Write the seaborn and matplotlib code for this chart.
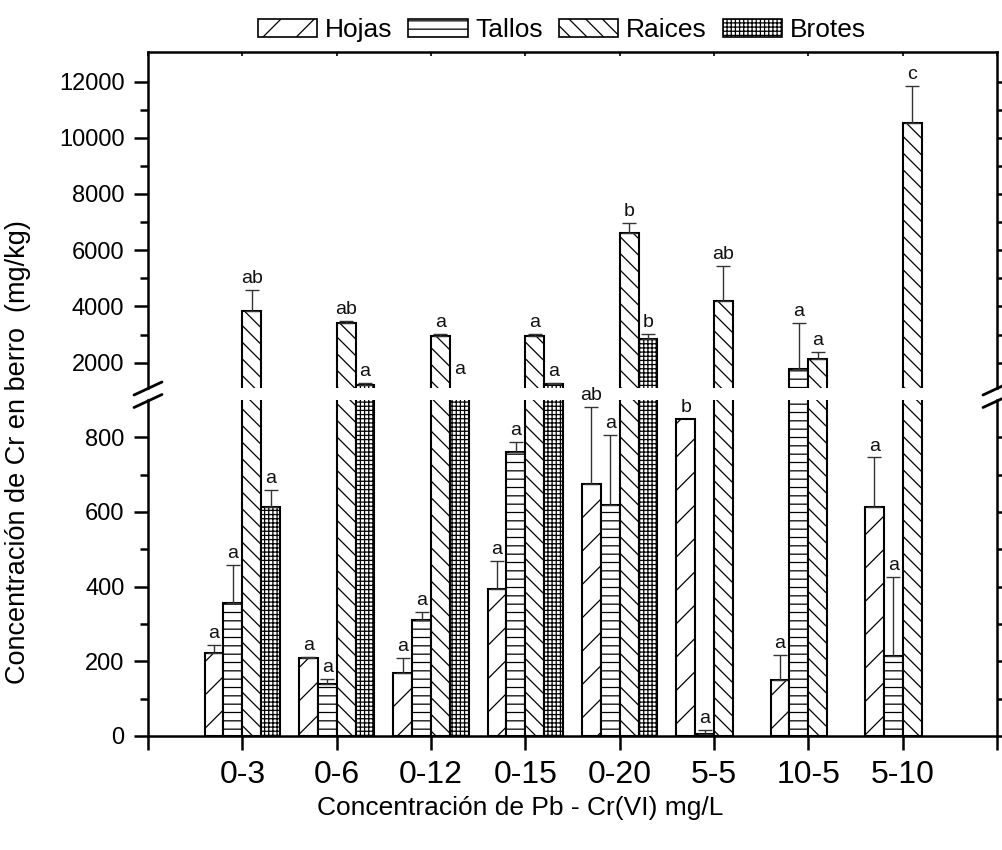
import numpy as np
import pandas as pd
import matplotlib
matplotlib.use("Agg")
import matplotlib.pyplot as plt
import seaborn as sns
from matplotlib.patches import Patch
from matplotlib.lines import Line2D

# Pb - Cr(VI) treatments (mg/L)
categories = ['0-3', '0-6', '0-12', '0-15', '0-20', '5-5', '10-5', '5-10']
tissues = ['Hojas', 'Tallos', 'Raices', 'Brotes']

# Cr concentration (mg/kg), upper error and significance letter per tissue
hojas = [221, 208, 170, 395, 675, 849, 150, 614]
hojas_err = [24, 4, 38, 74, 207, 0, 67, 132]
hojas_sig = ['a', 'a', 'a', 'a', 'ab', 'b', 'a', 'a']

tallos = [355, 140, 310, 760, 620, 5, 1788, 214]
tallos_err = [102, 14, 21, 28, 187, 11, 1639, 211]
tallos_sig = ['a', 'a', 'a', 'a', 'a', 'a', 'a', 'a']

raices = [3851, 3405, 2967, 2967, 6613, 4195, 2142, 10542]
raices_err = [722, 71, 48, 48, 353, 1249, 236, 1288]
raices_sig = ['ab', 'ab', 'a', 'a', 'b', 'ab', 'a', 'c']

brotes = [614, 1210, 950, 1246, 2850, np.nan, np.nan, np.nan]
brotes_err = [46, 71, 0, 20, 165, np.nan, np.nan, np.nan]
brotes_sig = ['a', 'a', 'a', 'a', 'b', '', '', '']

y_ticks_low = [0, 200, 400, 600, 800]
y_ticks_high = [2000, 4000, 6000, 8000, 10000, 12000]

series = {
    'Hojas': (hojas, hojas_err, hojas_sig),
    'Tallos': (tallos, tallos_err, tallos_sig),
    'Raices': (raices, raices_err, raices_sig),
    'Brotes': (brotes, brotes_err, brotes_sig),
}
hatches = {'Hojas': '/', 'Tallos': '--', 'Raices': '\\\\', 'Brotes': '++++'}

rows = []
for t in tissues:
    vals, errs, sigs = series[t]
    for c, v, e, s in zip(categories, vals, errs, sigs):
        if not np.isnan(v):
            rows.append({'tratamiento': c, 'tejido': t, 'valor': v, 'err': e, 'letra': s})
df = pd.DataFrame(rows)

sns.set_theme(style='ticks')
plt.rcParams['font.family'] = ['Liberation Sans', 'DejaVu Sans']
plt.rcParams.update({
    'text.color': 'black', 'axes.labelcolor': 'black',
    'xtick.color': 'black', 'ytick.color': 'black',
    'hatch.linewidth': 0.9, 'hatch.color': 'black',
})

W, H = 1002, 850
fig = plt.figure(figsize=(W / 100, H / 100), dpi=100)

x0, x1 = 148, 997
hi_top, hi_bot = 52, 388
lo_top, lo_bot = 400, 736
ax_hi = fig.add_axes([x0 / W, 1 - hi_bot / H, (x1 - x0) / W, (hi_bot - hi_top) / H])
ax_lo = fig.add_axes([x0 / W, 1 - lo_bot / H, (x1 - x0) / W, (lo_bot - lo_top) / H])

LO_LIM = (0, 900)
HI_LIM = (1100, 13050)

for ax in (ax_lo, ax_hi):
    sns.barplot(data=df, x='tratamiento', y='valor', hue='tejido',
                order=categories, hue_order=tissues,
                palette={t: 'white' for t in tissues}, saturation=1,
                edgecolor='black', linewidth=1.5, width=0.8,
                errorbar=None, legend=False, ax=ax)
    for patch in ax.patches:
        xc = patch.get_x() + patch.get_width() / 2
        ci = int(round(xc))
        ti = int(round((xc - ci + 0.3) / 0.2))
        patch.set_hatch(hatches[tissues[ti]])
    ax.set_xlabel('')
    ax.set_ylabel('')
    ax.set_xlim(-1, 8)
    for s in ax.spines.values():
        s.set_linewidth(1.8)
        s.set_color('black')

ax_lo.set_ylim(*LO_LIM)
ax_hi.set_ylim(*HI_LIM)

# error bars and significance letters, positioned from the drawn bars
for patch in list(ax_lo.patches):
    xc = patch.get_x() + patch.get_width() / 2
    ci = int(round(xc))
    ti = int(round((xc - ci + 0.3) / 0.2))
    row = df[(df.tratamiento == categories[ci]) & (df.tejido == tissues[ti])].iloc[0]
    top = row.valor + row.err
    if row.err > 0:
        for ax in (ax_lo, ax_hi):
            ax.errorbar(xc, row.valor, yerr=[[0], [row.err]], fmt='none',
                        ecolor='#333333', elinewidth=1.0, capsize=4.7, capthick=1.0)
    target = ax_hi if top >= HI_LIM[0] else ax_lo
    target.annotate(row.letra, xy=(xc, top), xytext=(0, 5), textcoords='offset points',
                    ha='center', va='baseline', fontsize=14, color='#111111',
                    annotation_clip=False)

ax_lo.set_xticks(range(-1, 9))
ax_lo.set_xticklabels([''] + categories + [''])
ax_lo.spines['top'].set_visible(False)
ax_lo.tick_params(axis='x', which='major', bottom=True, top=False, direction='out',
                  length=10, width=1.8, labelsize=23, pad=7)
ax_lo.set_yticks(y_ticks_low)
ax_lo.set_yticks([100, 300, 500, 700], minor=True)

ax_hi.set_xticks(range(-1, 9))
ax_hi.spines['bottom'].set_visible(False)
ax_hi.tick_params(axis='x', which='major', bottom=False, labelbottom=False, top=True,
                  direction='in', length=3, width=1.2)
ax_hi.set_yticks(y_ticks_high)
ax_hi.set_yticks([3000, 5000, 7000, 9000, 11000], minor=True)

for ax in (ax_lo, ax_hi):
    ax.tick_params(axis='y', which='major', left=True, direction='out',
                   length=10, width=1.8, labelsize=17, pad=7)
    ax.tick_params(axis='y', which='minor', left=True, direction='out',
                   length=5.5, width=1.8)
    ax.tick_params(axis='y', which='both', right=True, labelright=False)
    ax.yaxis.set_tick_params(which='both', length=2, width=1.2, right=True, left=False)
    ax.tick_params(axis='y', which='major', left=True, length=10, width=1.8)
    ax.tick_params(axis='y', which='minor', left=True, length=5.5, width=1.8)

# break marks on both vertical spines
for xs in (x0, x1):
    for yc in (hi_bot + 0.5, lo_top + 1):
        fig.add_artist(Line2D([(xs - 14) / W, (xs + 14) / W],
                              [1 - (yc + 6.5) / H, 1 - (yc - 6.5) / H],
                              transform=fig.transFigure, color='black', lw=2.0))

fig.text(18 / W, 1 - 452 / H, 'Concentración de Cr en berro  (mg/kg)',
         rotation=90, ha='center', va='center', fontsize=19.5)
fig.text(520 / W, 1 - 808 / H, 'Concentración de Pb - Cr(VI) mg/L',
         ha='center', va='center', fontsize=19)

handles = [Patch(facecolor='white', edgecolor='black', hatch=hatches[t], linewidth=1.2)
           for t in tissues]
fig.legend(handles, tissues, loc='center', bbox_to_anchor=(562 / W, 1 - 30 / H),
           ncol=4, frameon=False, fontsize=19, handlelength=2.25, handleheight=0.66,
           handletextpad=0.3, columnspacing=0.6)

fig.savefig('out.png', dpi=100)
